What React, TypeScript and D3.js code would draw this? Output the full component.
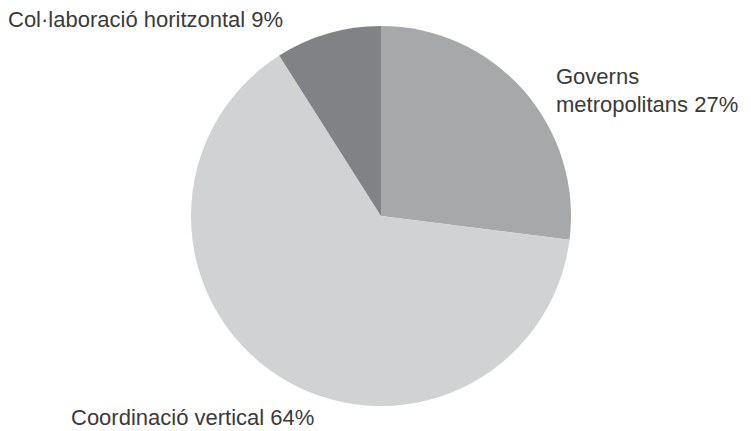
import React from "react";
import * as d3 from "d3";

const categories = ["Governs metropolitans", "Coordinació vertical", "Col·laboració horitzontal"];
const values = [27, 64, 9];
const colors = ["#a7a8aa", "#d1d2d4", "#818285"];

export default function App() {
  const width = 751;
  const height = 431;
  const cx = 381;
  const cy = 216;
  const r = 190;
  const data = categories.map((c, i) => ({ name: c, value: values[i], color: colors[i] }));
  const pie = d3.pie<any>().value((d: any) => d.value).sort(null);
  const arc = d3.arc<any>().innerRadius(0).outerRadius(r);
  const arcs = pie(data);
  const font = "'Liberation Sans', Arial, Helvetica, sans-serif";
  return (
    <svg width={width} height={height} style={{ position: "absolute", left: 0, top: 0 }}>
      <g transform={`translate(${cx},${cy})`}>
        {arcs.map((a, i) => (
          <path key={i} d={arc(a) as string} fill={a.data.color} />
        ))}
      </g>
      <g fontFamily={font} fontSize={22} fill="#3a3a3a">
        <text x={8} y={27}>{`${categories[2]} ${values[2]}%`}</text>
        <text x={556} y={84}>Governs</text>
        <text x={556} y={112}>{`metropolitans ${values[0]}%`}</text>
        <text x={71} y={425}>{`${categories[1]} ${values[1]}%`}</text>
      </g>
    </svg>
  );
}
